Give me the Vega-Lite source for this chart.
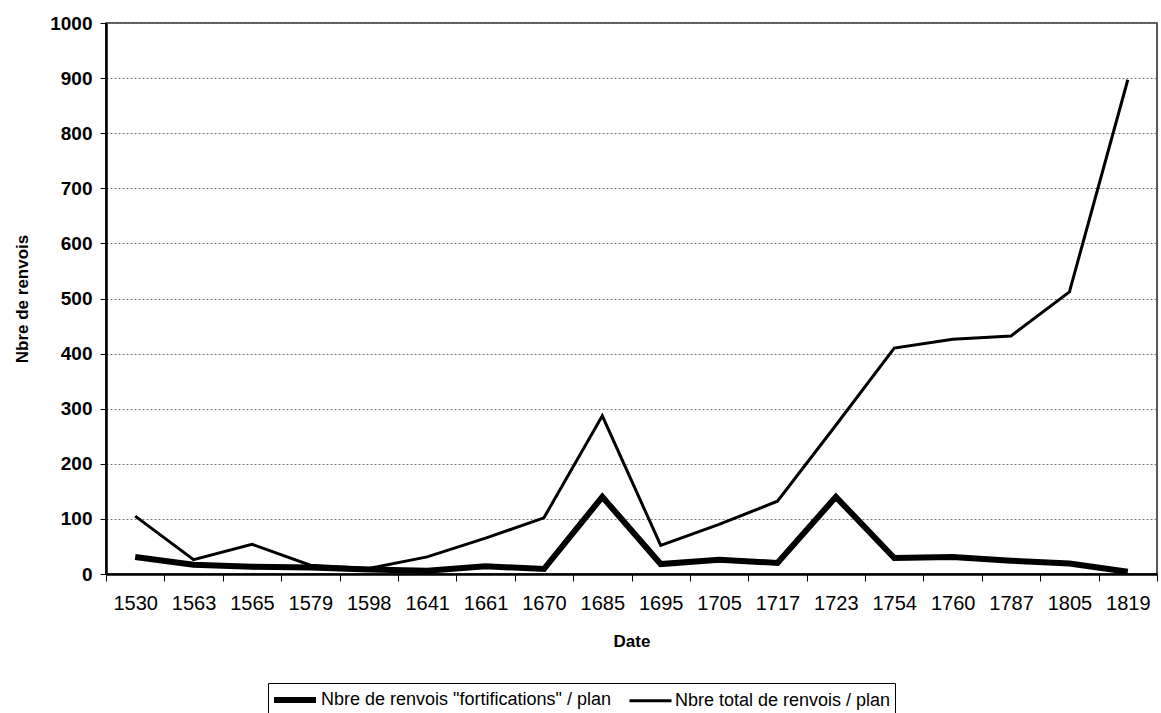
{
  "$schema": "https://vega.github.io/schema/vega-lite/v6.json",
  "width": 1051,
  "height": 551,
  "autosize": "none",
  "padding": {"left": 106, "top": 23, "right": 4, "bottom": 139},
  "background": "white",
  "config": {
    "font": "Liberation Sans",
    "view": {"stroke": "#222", "strokeWidth": 1.5}
  },
  "data": {
    "values": [
      {"date": "1530", "series": "Nbre de renvois \"fortifications\" / plan", "value": 31},
      {"date": "1563", "series": "Nbre de renvois \"fortifications\" / plan", "value": 17},
      {"date": "1565", "series": "Nbre de renvois \"fortifications\" / plan", "value": 13},
      {"date": "1579", "series": "Nbre de renvois \"fortifications\" / plan", "value": 12},
      {"date": "1598", "series": "Nbre de renvois \"fortifications\" / plan", "value": 8},
      {"date": "1641", "series": "Nbre de renvois \"fortifications\" / plan", "value": 6},
      {"date": "1661", "series": "Nbre de renvois \"fortifications\" / plan", "value": 14},
      {"date": "1670", "series": "Nbre de renvois \"fortifications\" / plan", "value": 9},
      {"date": "1685", "series": "Nbre de renvois \"fortifications\" / plan", "value": 140},
      {"date": "1695", "series": "Nbre de renvois \"fortifications\" / plan", "value": 18},
      {"date": "1705", "series": "Nbre de renvois \"fortifications\" / plan", "value": 26},
      {"date": "1717", "series": "Nbre de renvois \"fortifications\" / plan", "value": 20},
      {"date": "1723", "series": "Nbre de renvois \"fortifications\" / plan", "value": 140},
      {"date": "1754", "series": "Nbre de renvois \"fortifications\" / plan", "value": 29},
      {"date": "1760", "series": "Nbre de renvois \"fortifications\" / plan", "value": 31},
      {"date": "1787", "series": "Nbre de renvois \"fortifications\" / plan", "value": 24},
      {"date": "1805", "series": "Nbre de renvois \"fortifications\" / plan", "value": 19},
      {"date": "1819", "series": "Nbre de renvois \"fortifications\" / plan", "value": 4},
      {"date": "1530", "series": "Nbre total de renvois / plan", "value": 105},
      {"date": "1563", "series": "Nbre total de renvois / plan", "value": 26},
      {"date": "1565", "series": "Nbre total de renvois / plan", "value": 54},
      {"date": "1579", "series": "Nbre total de renvois / plan", "value": 16},
      {"date": "1598", "series": "Nbre total de renvois / plan", "value": 10},
      {"date": "1641", "series": "Nbre total de renvois / plan", "value": 31},
      {"date": "1661", "series": "Nbre total de renvois / plan", "value": 65},
      {"date": "1670", "series": "Nbre total de renvois / plan", "value": 102},
      {"date": "1685", "series": "Nbre total de renvois / plan", "value": 287},
      {"date": "1695", "series": "Nbre total de renvois / plan", "value": 52},
      {"date": "1705", "series": "Nbre total de renvois / plan", "value": 90},
      {"date": "1717", "series": "Nbre total de renvois / plan", "value": 132},
      {"date": "1723", "series": "Nbre total de renvois / plan", "value": 270},
      {"date": "1754", "series": "Nbre total de renvois / plan", "value": 410},
      {"date": "1760", "series": "Nbre total de renvois / plan", "value": 426},
      {"date": "1787", "series": "Nbre total de renvois / plan", "value": 432},
      {"date": "1805", "series": "Nbre total de renvois / plan", "value": 512},
      {"date": "1819", "series": "Nbre total de renvois / plan", "value": 897}
    ]
  },
  "mark": {"type": "line", "color": "black", "strokeJoin": "miter"},
  "encoding": {
    "x": {
      "field": "date",
      "type": "ordinal",
      "sort": null,
      "bandPosition": 0.5,
      "scale": {"type": "band", "paddingInner": 0, "paddingOuter": 0},
      "axis": {
        "title": "Date",
        "titleFontSize": 17,
        "titleFontWeight": "bold",
        "titleColor": "black",
        "titlePadding": 20,
        "labelAngle": 0,
        "labelFontSize": 20,
        "labelColor": "black",
        "labelPadding": 12,
        "tickBand": "extent",
        "tickSize": 7,
        "tickColor": "black",
        "domainColor": "black",
        "domainWidth": 2.5,
        "grid": false
      }
    },
    "y": {
      "field": "value",
      "type": "quantitative",
      "scale": {"domain": [0, 1000], "nice": false},
      "axis": {
        "title": "Nbre de renvois",
        "titleFontSize": 17,
        "titleFontWeight": "bold",
        "titleColor": "black",
        "titlePadding": 18,
        "format": "d",
        "values": [0, 100, 200, 300, 400, 500, 600, 700, 800, 900, 1000],
        "labelFontSize": 19,
        "labelFontWeight": "bold",
        "labelColor": "black",
        "labelPadding": 8,
        "tickSize": 6,
        "tickColor": "black",
        "domainColor": "black",
        "domainWidth": 2.5,
        "grid": true,
        "gridColor": "#777",
        "gridDash": [2, 2],
        "gridWidth": 1
      }
    },
    "strokeWidth": {
      "field": "series",
      "type": "nominal",
      "scale": {
        "domain": ["Nbre de renvois \"fortifications\" / plan", "Nbre total de renvois / plan"],
        "range": [6, 3]
      },
      "legend": {
        "title": null,
        "orient": "none",
        "direction": "horizontal",
        "legendX": 162,
        "legendY": 660,
        "strokeColor": "black",
        "padding": 4,
        "symbolType": "M-2.1,0H2.1",
        "symbolSize": 400,
        "symbolOffset": 10,
        "symbolStrokeColor": "black",
        "labelFontSize": 18,
        "labelColor": "black",
        "labelOffset": 13,
        "columnPadding": 12,
        "labelLimit": 400
      }
    }
  }
}
